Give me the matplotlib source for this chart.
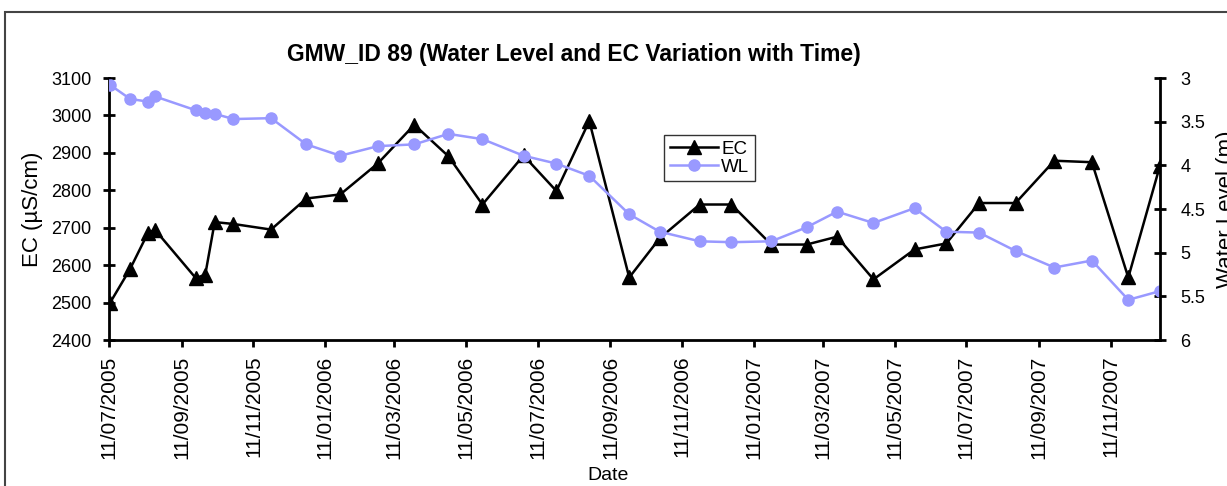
import matplotlib
matplotlib.use("Agg")
import matplotlib.pyplot as plt
import matplotlib.dates as mdates
from matplotlib.patches import Rectangle
import numpy as np

plt.rcParams['font.family'] = ['Liberation Sans', 'DejaVu Sans']

# sampling dates (dd/mm/yyyy on the axis)
dates = ["2005-07-12", "2005-07-29", "2005-08-13", "2005-08-19", "2005-09-23",
         "2005-10-01", "2005-10-09", "2005-10-25", "2005-11-26", "2005-12-26",
         "2006-01-24", "2006-02-25", "2006-03-28", "2006-04-26", "2006-05-25",
         "2006-06-29", "2006-07-27", "2006-08-24", "2006-09-27", "2006-10-23",
         "2006-11-26", "2006-12-23", "2007-01-26", "2007-02-25", "2007-03-23",
         "2007-04-23", "2007-05-28", "2007-06-24", "2007-07-22", "2007-08-22",
         "2007-09-24", "2007-10-26", "2007-11-26", "2007-12-23"]
ec = [2500, 2590, 2685, 2695, 2565, 2575, 2715, 2710, 2695, 2778,
      2789, 2872, 2975, 2891, 2762, 2893, 2798, 2985, 2567, 2672,
      2762, 2762, 2655, 2655, 2676, 2562, 2642, 2658, 2766, 2766,
      2879, 2875, 2567, 2866]
wl = [3.08, 3.24, 3.27, 3.21, 3.37, 3.40, 3.41, 3.47, 3.46, 3.76,
      3.89, 3.78, 3.76, 3.64, 3.70, 3.89, 3.98, 4.12, 4.56, 4.76,
      4.87, 4.88, 4.87, 4.71, 4.53, 4.66, 4.49, 4.76, 4.77, 4.98,
      5.17, 5.09, 5.54, 5.44]
ec_ticks = [2400, 2500, 2600, 2700, 2800, 2900, 3000, 3100]
wl_ticks = [3, 3.5, 4, 4.5, 5, 5.5, 6]
wl_labels = ["3", "3.5", "4", "4.5", "5", "5.5", "6"]

d = np.array(dates, dtype="datetime64[D]")
wl_col = "#9999FF"

fig = plt.figure(figsize=(12.27, 4.86), dpi=100)
ax = fig.add_axes([109/1227, 1-340/486, (1160-109)/1227, (340-78)/486])
ax2 = ax.twinx()

ax.plot(d, ec, color="black", lw=1.8, marker="^", ms=10, label="EC")
ax2.plot(d, wl, color=wl_col, lw=1.8, marker="o", ms=8, label="WL")

ax.set_xlim(np.datetime64("2005-07-11"), np.datetime64("2007-12-23"))
ax.set_ylim(2400, 3100)
ax.set_yticks(ec_ticks)
ax2.set_ylim(6, 3)
ax2.set_yticks(wl_ticks)
ax2.set_yticklabels(wl_labels)

ax.xaxis.set_major_locator(mdates.MonthLocator(bymonth=[1, 3, 5, 7, 9, 11], bymonthday=11))
ax.xaxis.set_major_formatter(mdates.DateFormatter("%d/%m/%Y"))
plt.setp(ax.get_xticklabels(), rotation=90)

for a in (ax, ax2):
    a.spines["top"].set_visible(False)
    for s in a.spines.values():
        s.set_linewidth(2)
ax.spines["right"].set_visible(False)
ax2.spines["left"].set_visible(False)
ax2.spines["bottom"].set_visible(False)

ax.tick_params(axis="y", direction="inout", length=9, width=2, labelsize=13, pad=8)
ax.tick_params(axis="x", direction="out", length=5, width=2, labelsize=15, pad=6)
ax2.tick_params(axis="y", direction="inout", length=9, width=2, labelsize=13, pad=10)

ax.set_ylabel("EC (µS/cm)", fontsize=16, labelpad=6)
ax2.set_ylabel("Water Level (m)", fontsize=16, labelpad=8)
fig.text(608/1227, 1-475/486, "Date", fontsize=14, ha="center", va="center")
fig.text(574/1227, 1-55/486, "GMW_ID 89 (Water Level and EC Variation with Time)",
         fontsize=16.5, fontweight="bold", ha="center", va="center")

h1, l1 = ax.get_legend_handles_labels()
h2, l2 = ax2.get_legend_handles_labels()
leg = ax2.legend(h1 + h2, l1 + l2, loc="upper left",
                 bbox_to_anchor=(664/1227, 1-135/486), bbox_transform=fig.transFigure,
                 fontsize=13.5, frameon=True, fancybox=False, handlelength=2.6,
                 labelspacing=0.05, borderpad=0.3, handletextpad=0.15, borderaxespad=0)
leg.get_frame().set_edgecolor("black")
leg.get_frame().set_linewidth(1)

# chart area border (cropped on the right and bottom)
fig.add_artist(Rectangle((5/1227, -0.1), 1.2, 1.1 - 12/486, transform=fig.transFigure,
                         fill=False, edgecolor="#444444", lw=1.5))

fig.savefig("out.png", dpi=100)
